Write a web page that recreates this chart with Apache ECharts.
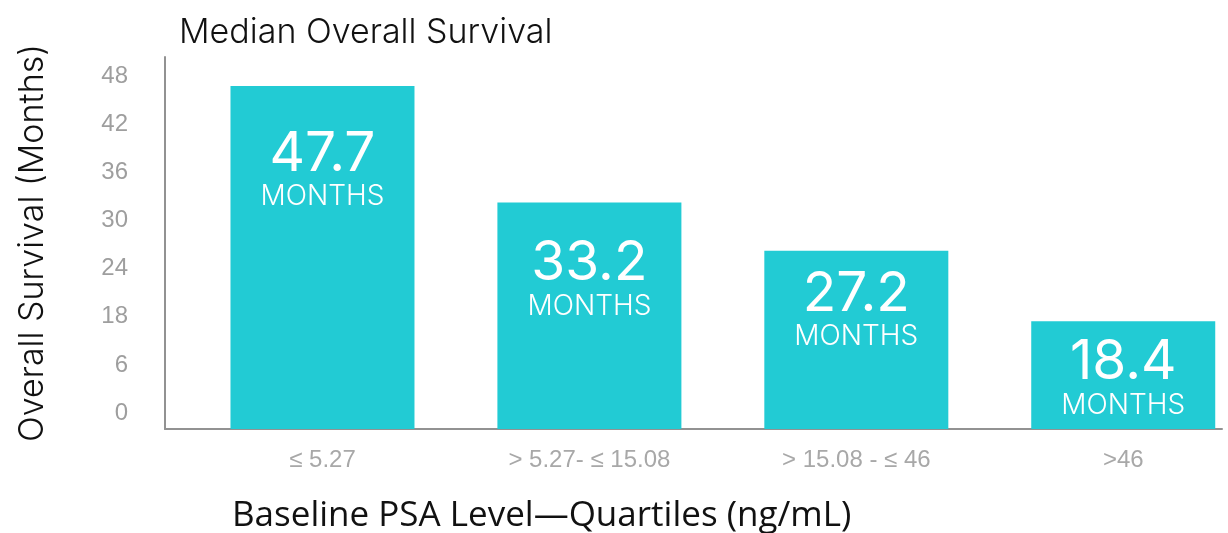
<!DOCTYPE html>
<html>
<head>
<meta charset="utf-8">
<script src="https://cdn.jsdelivr.net/npm/echarts@6/dist/echarts.min.js"></script>
<style>
  html, body { margin: 0; padding: 0; background: #fff; }
  #chart { width: 1228px; height: 533px; }
</style>
</head>
<body>
<div id="chart"></div>
<script>
// baseline PSA quartiles and median OS
var categories = ['≤ 5.27', '> 5.27- ≤ 15.08', '> 15.08 - ≤ 46', '>46'];
var osMonths = [47.7, 33.2, 27.2, 18.4];
// the tick labels as printed on the original (no 12)
var yTickLabels = ['0', '6', '18', '24', '30', '36', '42', '48'];

var TEAL = '#22cbd4';
var GEO = 'Inter, "Open Sans", sans-serif';
var HELV = '"Liberation Sans", Arial, sans-serif';

// gap between bar top and the label, per bar
var labelGap = [41, 34, 16, 14];

var chart = echarts.init(document.getElementById('chart'));

var option = {
  animation: false,
  title: [{
    text: 'Median Overall Survival',
    left: 174,
    top: 11,
    textStyle: { fontFamily: GEO, fontSize: 34, fontWeight: 300, color: '#111' }
  }, {
    text: 'Baseline PSA Level—Quartiles (ng/mL)',
    left: 227,
    top: 494,
    textStyle: { fontFamily: '"Open Sans", sans-serif', fontSize: 35, fontWeight: 400, color: '#111' }
  }],
  grid: { left: 165, right: 6, top: 57, bottom: 104 },
  xAxis: {
    type: 'value',
    min: -0.59,
    max: 3.37,
    axisLine: { onZero: false, lineStyle: { color: '#929292', width: 2 } },
    axisTick: { show: false },
    splitLine: { show: false },
    axisLabel: {
      customValues: categories.map(function (_, i) { return i; }),
      margin: 19,
      fontFamily: HELV,
      fontSize: 24,
      color: '#a8a8a8',
      formatter: function (v) { return categories[Math.round(v)]; }
    }
  },
  yAxis: [{
    type: 'value',
    min: -0.33,
    max: 7.4,
    name: 'Overall Survival (Months)',
    nameLocation: 'middle',
    nameRotate: 90,
    nameGap: 115,
    nameTextStyle: { fontFamily: GEO, fontSize: 34, fontWeight: 300, color: '#111' },
    axisLine: { show: true, onZero: false, lineStyle: { color: '#929292', width: 2 } },
    axisTick: { show: false },
    splitLine: { show: false },
    axisLabel: {
      customValues: yTickLabels.map(function (_, i) { return i; }),
      margin: 37,
      fontFamily: HELV,
      fontSize: 24,
      color: '#9e9e9e',
      formatter: function (v) { return yTickLabels[Math.round(v)]; }
    }
  }, {
    type: 'value',
    min: 5,
    max: 51.3,
    show: false
  }],
  series: [{
    type: 'bar',
    xAxisIndex: 0,
    yAxisIndex: 1,
    barWidth: 184,
    itemStyle: { color: TEAL },
    data: osMonths.map(function (v, i) {
      return { value: [i, v], label: { distance: labelGap[i] } };
    }),
    label: {
      show: true,
      position: 'insideTop',
      formatter: function (p) { return '{num|' + p.value[1].toFixed(1) + '}\n{unit|MONTHS}'; },
      rich: {
        num: { fontFamily: GEO, fontSize: 55, fontWeight: 400, color: '#fff', lineHeight: 55 },
        unit: { fontFamily: GEO, fontSize: 28, fontWeight: 300, color: '#fff', lineHeight: 30 }
      }
    }
  }]
};

chart.setOption(option);
</script>
</body>
</html>
